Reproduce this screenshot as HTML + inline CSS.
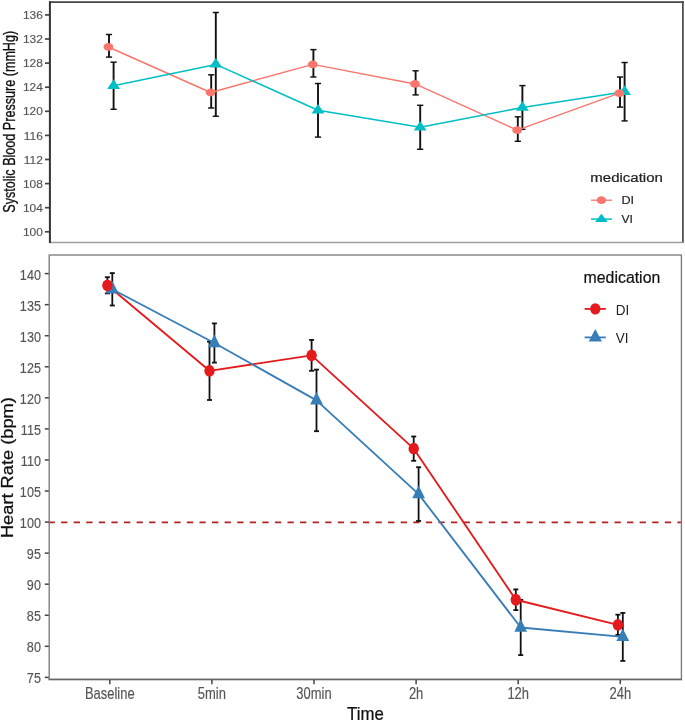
<!DOCTYPE html>
<html><head><meta charset="utf-8"><style>
html,body{margin:0;padding:0;background:#fff;width:685px;height:722px;overflow:hidden}
svg text{font-family:"Liberation Sans", sans-serif}
svg{filter:blur(0.4px)}
</style></head><body>
<svg width="685" height="722" viewBox="0 0 685 722" style="position:absolute;left:0;top:0"><rect width="685" height="722" fill="#fff"/><line x1="49" y1="2.1" x2="684" y2="2.1" stroke="#454545" stroke-width="1.7"/><line x1="682.9" y1="1.3" x2="682.9" y2="243" stroke="#4a4a4a" stroke-width="1.7"/><line x1="49" y1="242.5" x2="683" y2="242.5" stroke="#a0a0a0" stroke-width="1.3"/><line x1="49.9" y1="1.3" x2="49.9" y2="243" stroke="#333" stroke-width="2"/><line x1="45" y1="231.80" x2="49" y2="231.80" stroke="#444" stroke-width="1.7"/><text x="0" y="0" transform="translate(42.9,235.90) scale(1.13,1)" text-anchor="end" font-size="10.6" fill="#555" stroke="#555" stroke-width="0.12">100</text><line x1="45" y1="207.70" x2="49" y2="207.70" stroke="#444" stroke-width="1.7"/><text x="0" y="0" transform="translate(42.9,211.80) scale(1.13,1)" text-anchor="end" font-size="10.6" fill="#555" stroke="#555" stroke-width="0.12">104</text><line x1="45" y1="183.60" x2="49" y2="183.60" stroke="#444" stroke-width="1.7"/><text x="0" y="0" transform="translate(42.9,187.70) scale(1.13,1)" text-anchor="end" font-size="10.6" fill="#555" stroke="#555" stroke-width="0.12">108</text><line x1="45" y1="159.50" x2="49" y2="159.50" stroke="#444" stroke-width="1.7"/><text x="0" y="0" transform="translate(42.9,163.60) scale(1.13,1)" text-anchor="end" font-size="10.6" fill="#555" stroke="#555" stroke-width="0.12">112</text><line x1="45" y1="135.40" x2="49" y2="135.40" stroke="#444" stroke-width="1.7"/><text x="0" y="0" transform="translate(42.9,139.50) scale(1.13,1)" text-anchor="end" font-size="10.6" fill="#555" stroke="#555" stroke-width="0.12">116</text><line x1="45" y1="111.30" x2="49" y2="111.30" stroke="#444" stroke-width="1.7"/><text x="0" y="0" transform="translate(42.9,115.40) scale(1.13,1)" text-anchor="end" font-size="10.6" fill="#555" stroke="#555" stroke-width="0.12">120</text><line x1="45" y1="87.20" x2="49" y2="87.20" stroke="#444" stroke-width="1.7"/><text x="0" y="0" transform="translate(42.9,91.30) scale(1.13,1)" text-anchor="end" font-size="10.6" fill="#555" stroke="#555" stroke-width="0.12">124</text><line x1="45" y1="63.10" x2="49" y2="63.10" stroke="#444" stroke-width="1.7"/><text x="0" y="0" transform="translate(42.9,67.20) scale(1.13,1)" text-anchor="end" font-size="10.6" fill="#555" stroke="#555" stroke-width="0.12">128</text><line x1="45" y1="39.00" x2="49" y2="39.00" stroke="#444" stroke-width="1.7"/><text x="0" y="0" transform="translate(42.9,43.10) scale(1.13,1)" text-anchor="end" font-size="10.6" fill="#555" stroke="#555" stroke-width="0.12">132</text><line x1="45" y1="14.90" x2="49" y2="14.90" stroke="#444" stroke-width="1.7"/><text x="0" y="0" transform="translate(42.9,19.00) scale(1.13,1)" text-anchor="end" font-size="10.6" fill="#555" stroke="#555" stroke-width="0.12">136</text><text x="0" y="0" transform="translate(15.2,121.8) rotate(-90) scale(1,1.25)" text-anchor="middle" font-size="12.6" fill="#111" stroke="#111" stroke-width="0.25">Systolic Blood Pressure (mmHg)</text><line x1="109.00" y1="34.50" x2="109.00" y2="57.10" stroke="#111" stroke-width="1.9"/><line x1="105.90" y1="34.50" x2="112.10" y2="34.50" stroke="#111" stroke-width="1.45"/><line x1="105.90" y1="57.10" x2="112.10" y2="57.10" stroke="#111" stroke-width="1.45"/><line x1="113.60" y1="62.20" x2="113.60" y2="109.30" stroke="#111" stroke-width="1.9"/><line x1="110.50" y1="62.20" x2="116.70" y2="62.20" stroke="#111" stroke-width="1.45"/><line x1="110.50" y1="109.30" x2="116.70" y2="109.30" stroke="#111" stroke-width="1.45"/><line x1="211.20" y1="74.80" x2="211.20" y2="108.00" stroke="#111" stroke-width="1.9"/><line x1="208.10" y1="74.80" x2="214.30" y2="74.80" stroke="#111" stroke-width="1.45"/><line x1="208.10" y1="108.00" x2="214.30" y2="108.00" stroke="#111" stroke-width="1.45"/><line x1="215.80" y1="12.50" x2="215.80" y2="116.30" stroke="#111" stroke-width="1.9"/><line x1="212.70" y1="12.50" x2="218.90" y2="12.50" stroke="#111" stroke-width="1.45"/><line x1="212.70" y1="116.30" x2="218.90" y2="116.30" stroke="#111" stroke-width="1.45"/><line x1="313.40" y1="49.60" x2="313.40" y2="77.00" stroke="#111" stroke-width="1.9"/><line x1="310.30" y1="49.60" x2="316.50" y2="49.60" stroke="#111" stroke-width="1.45"/><line x1="310.30" y1="77.00" x2="316.50" y2="77.00" stroke="#111" stroke-width="1.45"/><line x1="318.00" y1="83.50" x2="318.00" y2="137.10" stroke="#111" stroke-width="1.9"/><line x1="314.90" y1="83.50" x2="321.10" y2="83.50" stroke="#111" stroke-width="1.45"/><line x1="314.90" y1="137.10" x2="321.10" y2="137.10" stroke="#111" stroke-width="1.45"/><line x1="415.60" y1="70.80" x2="415.60" y2="94.90" stroke="#111" stroke-width="1.9"/><line x1="412.50" y1="70.80" x2="418.70" y2="70.80" stroke="#111" stroke-width="1.45"/><line x1="412.50" y1="94.90" x2="418.70" y2="94.90" stroke="#111" stroke-width="1.45"/><line x1="420.20" y1="105.30" x2="420.20" y2="149.30" stroke="#111" stroke-width="1.9"/><line x1="417.10" y1="105.30" x2="423.30" y2="105.30" stroke="#111" stroke-width="1.45"/><line x1="417.10" y1="149.30" x2="423.30" y2="149.30" stroke="#111" stroke-width="1.45"/><line x1="517.80" y1="116.80" x2="517.80" y2="141.30" stroke="#111" stroke-width="1.9"/><line x1="514.70" y1="116.80" x2="520.90" y2="116.80" stroke="#111" stroke-width="1.45"/><line x1="514.70" y1="141.30" x2="520.90" y2="141.30" stroke="#111" stroke-width="1.45"/><line x1="522.40" y1="85.60" x2="522.40" y2="129.30" stroke="#111" stroke-width="1.9"/><line x1="519.30" y1="85.60" x2="525.50" y2="85.60" stroke="#111" stroke-width="1.45"/><line x1="519.30" y1="129.30" x2="525.50" y2="129.30" stroke="#111" stroke-width="1.45"/><line x1="620.00" y1="77.00" x2="620.00" y2="107.10" stroke="#111" stroke-width="1.9"/><line x1="616.90" y1="77.00" x2="623.10" y2="77.00" stroke="#111" stroke-width="1.45"/><line x1="616.90" y1="107.10" x2="623.10" y2="107.10" stroke="#111" stroke-width="1.45"/><line x1="624.60" y1="62.50" x2="624.60" y2="120.90" stroke="#111" stroke-width="1.9"/><line x1="621.50" y1="62.50" x2="627.70" y2="62.50" stroke="#111" stroke-width="1.45"/><line x1="621.50" y1="120.90" x2="627.70" y2="120.90" stroke="#111" stroke-width="1.45"/><polyline points="108.40,47.00 210.60,92.50 312.80,64.40 415.00,83.95 517.20,130.15 619.40,93.15" fill="none" stroke="#F8766D" stroke-width="1.45" stroke-linejoin="round"/><polyline points="113.60,85.75 215.80,64.40 318.00,110.30 420.20,127.30 522.40,107.45 624.60,91.70" fill="none" stroke="#00BFC4" stroke-width="1.55" stroke-linejoin="round"/><polygon points="113.60,79.35 120.00,88.95 107.20,88.95" fill="#00BFC4"/><polygon points="215.80,58.00 222.20,67.60 209.40,67.60" fill="#00BFC4"/><polygon points="318.00,103.90 324.40,113.50 311.60,113.50" fill="#00BFC4"/><polygon points="420.20,120.90 426.60,130.50 413.80,130.50" fill="#00BFC4"/><polygon points="522.40,101.05 528.80,110.65 516.00,110.65" fill="#00BFC4"/><polygon points="624.60,85.30 631.00,94.90 618.20,94.90" fill="#00BFC4"/><ellipse cx="108.40" cy="47.00" rx="4.9" ry="3.9" fill="#F8766D"/><ellipse cx="210.60" cy="92.50" rx="4.9" ry="3.9" fill="#F8766D"/><ellipse cx="312.80" cy="64.40" rx="4.9" ry="3.9" fill="#F8766D"/><ellipse cx="415.00" cy="83.95" rx="4.9" ry="3.9" fill="#F8766D"/><ellipse cx="517.20" cy="130.15" rx="4.9" ry="3.9" fill="#F8766D"/><ellipse cx="619.40" cy="93.15" rx="4.9" ry="3.9" fill="#F8766D"/><text x="0" y="0" transform="translate(590.3,181.7) scale(1.25,1)" font-size="12" fill="#222" stroke="#222" stroke-width="0.2">medication</text><line x1="591" y1="200.2" x2="612" y2="200.2" stroke="#F8766D" stroke-width="1.3"/><ellipse cx="601.4" cy="200.2" rx="4.7" ry="3.9" fill="#F8766D"/><text x="0" y="0" transform="translate(621.4,203.7) scale(1.2,1)" font-size="10.5" fill="#222" stroke="#222" stroke-width="0.15">DI</text><line x1="591" y1="219.1" x2="612" y2="219.1" stroke="#00BFC4" stroke-width="1.5"/><polygon points="601.40,213.70 607.70,222.00 595.10,222.00" fill="#00BFC4"/><text x="0" y="0" transform="translate(621.5,223.2) scale(1.15,1)" font-size="10.5" fill="#222" stroke="#222" stroke-width="0.15">VI</text><line x1="48.52" y1="522.3" x2="681" y2="522.3" stroke="#B22222" stroke-width="1.75" stroke-dasharray="6.3 6.277"/><rect x="49.2" y="255" width="632.2" height="424.4" fill="none" stroke="#7c7c7c" stroke-width="1.35"/><line x1="48.6" y1="679.4" x2="682" y2="679.4" stroke="#666" stroke-width="1.5"/><line x1="44.8" y1="677.38" x2="48.8" y2="677.38" stroke="#444" stroke-width="1.5"/><text x="0" y="0" transform="translate(40.9,683.48) scale(0.83,1)" text-anchor="end" font-size="15.2" fill="#555" stroke="#555" stroke-width="0.15">75</text><line x1="44.8" y1="646.32" x2="48.8" y2="646.32" stroke="#444" stroke-width="1.5"/><text x="0" y="0" transform="translate(40.9,652.42) scale(0.83,1)" text-anchor="end" font-size="15.2" fill="#555" stroke="#555" stroke-width="0.15">80</text><line x1="44.8" y1="615.26" x2="48.8" y2="615.26" stroke="#444" stroke-width="1.5"/><text x="0" y="0" transform="translate(40.9,621.36) scale(0.83,1)" text-anchor="end" font-size="15.2" fill="#555" stroke="#555" stroke-width="0.15">85</text><line x1="44.8" y1="584.20" x2="48.8" y2="584.20" stroke="#444" stroke-width="1.5"/><text x="0" y="0" transform="translate(40.9,590.30) scale(0.83,1)" text-anchor="end" font-size="15.2" fill="#555" stroke="#555" stroke-width="0.15">90</text><line x1="44.8" y1="553.14" x2="48.8" y2="553.14" stroke="#444" stroke-width="1.5"/><text x="0" y="0" transform="translate(40.9,559.24) scale(0.83,1)" text-anchor="end" font-size="15.2" fill="#555" stroke="#555" stroke-width="0.15">95</text><line x1="44.8" y1="522.08" x2="48.8" y2="522.08" stroke="#444" stroke-width="1.5"/><text x="0" y="0" transform="translate(40.9,528.18) scale(0.83,1)" text-anchor="end" font-size="15.2" fill="#555" stroke="#555" stroke-width="0.15">100</text><line x1="44.8" y1="491.02" x2="48.8" y2="491.02" stroke="#444" stroke-width="1.5"/><text x="0" y="0" transform="translate(40.9,497.12) scale(0.83,1)" text-anchor="end" font-size="15.2" fill="#555" stroke="#555" stroke-width="0.15">105</text><line x1="44.8" y1="459.96" x2="48.8" y2="459.96" stroke="#444" stroke-width="1.5"/><text x="0" y="0" transform="translate(40.9,466.06) scale(0.83,1)" text-anchor="end" font-size="15.2" fill="#555" stroke="#555" stroke-width="0.15">110</text><line x1="44.8" y1="428.90" x2="48.8" y2="428.90" stroke="#444" stroke-width="1.5"/><text x="0" y="0" transform="translate(40.9,435.00) scale(0.83,1)" text-anchor="end" font-size="15.2" fill="#555" stroke="#555" stroke-width="0.15">115</text><line x1="44.8" y1="397.84" x2="48.8" y2="397.84" stroke="#444" stroke-width="1.5"/><text x="0" y="0" transform="translate(40.9,403.94) scale(0.83,1)" text-anchor="end" font-size="15.2" fill="#555" stroke="#555" stroke-width="0.15">120</text><line x1="44.8" y1="366.78" x2="48.8" y2="366.78" stroke="#444" stroke-width="1.5"/><text x="0" y="0" transform="translate(40.9,372.88) scale(0.83,1)" text-anchor="end" font-size="15.2" fill="#555" stroke="#555" stroke-width="0.15">125</text><line x1="44.8" y1="335.72" x2="48.8" y2="335.72" stroke="#444" stroke-width="1.5"/><text x="0" y="0" transform="translate(40.9,341.82) scale(0.83,1)" text-anchor="end" font-size="15.2" fill="#555" stroke="#555" stroke-width="0.15">130</text><line x1="44.8" y1="304.66" x2="48.8" y2="304.66" stroke="#444" stroke-width="1.5"/><text x="0" y="0" transform="translate(40.9,310.76) scale(0.83,1)" text-anchor="end" font-size="15.2" fill="#555" stroke="#555" stroke-width="0.15">135</text><line x1="44.8" y1="273.60" x2="48.8" y2="273.60" stroke="#444" stroke-width="1.5"/><text x="0" y="0" transform="translate(40.9,279.70) scale(0.83,1)" text-anchor="end" font-size="15.2" fill="#555" stroke="#555" stroke-width="0.15">140</text><line x1="109.80" y1="680" x2="109.80" y2="684.2" stroke="#444" stroke-width="1.5"/><text x="0" y="0" transform="translate(109.80,698.9) scale(0.81,1)" text-anchor="middle" font-size="16" fill="#555" stroke="#555" stroke-width="0.15">Baseline</text><line x1="211.90" y1="680" x2="211.90" y2="684.2" stroke="#444" stroke-width="1.5"/><text x="0" y="0" transform="translate(211.90,698.9) scale(0.81,1)" text-anchor="middle" font-size="16" fill="#555" stroke="#555" stroke-width="0.15">5min</text><line x1="314.00" y1="680" x2="314.00" y2="684.2" stroke="#444" stroke-width="1.5"/><text x="0" y="0" transform="translate(314.00,698.9) scale(0.81,1)" text-anchor="middle" font-size="16" fill="#555" stroke="#555" stroke-width="0.15">30min</text><line x1="416.10" y1="680" x2="416.10" y2="684.2" stroke="#444" stroke-width="1.5"/><text x="0" y="0" transform="translate(416.10,698.9) scale(0.81,1)" text-anchor="middle" font-size="16" fill="#555" stroke="#555" stroke-width="0.15">2h</text><line x1="518.20" y1="680" x2="518.20" y2="684.2" stroke="#444" stroke-width="1.5"/><text x="0" y="0" transform="translate(518.20,698.9) scale(0.81,1)" text-anchor="middle" font-size="16" fill="#555" stroke="#555" stroke-width="0.15">12h</text><line x1="620.30" y1="680" x2="620.30" y2="684.2" stroke="#444" stroke-width="1.5"/><text x="0" y="0" transform="translate(620.30,698.9) scale(0.81,1)" text-anchor="middle" font-size="16" fill="#555" stroke="#555" stroke-width="0.15">24h</text><text x="0" y="0" transform="translate(365.4,719.7) scale(0.91,1)" text-anchor="middle" font-size="18.4" fill="#111" stroke="#111" stroke-width="0.25">Time</text><text x="0" y="0" transform="translate(13.2,467.6) rotate(-90) scale(1.141,1)" text-anchor="middle" font-size="16" fill="#111" stroke="#111" stroke-width="0.25">Heart Rate (bpm)</text><line x1="107.40" y1="277.20" x2="107.40" y2="293.40" stroke="#111" stroke-width="1.8"/><line x1="104.90" y1="277.20" x2="109.90" y2="277.20" stroke="#111" stroke-width="1.8"/><line x1="104.90" y1="293.40" x2="109.90" y2="293.40" stroke="#111" stroke-width="1.8"/><line x1="112.30" y1="273.10" x2="112.30" y2="305.50" stroke="#111" stroke-width="1.8"/><line x1="109.80" y1="273.10" x2="114.80" y2="273.10" stroke="#111" stroke-width="1.8"/><line x1="109.80" y1="305.50" x2="114.80" y2="305.50" stroke="#111" stroke-width="1.8"/><line x1="209.50" y1="341.60" x2="209.50" y2="400.00" stroke="#111" stroke-width="1.8"/><line x1="207.00" y1="341.60" x2="212.00" y2="341.60" stroke="#111" stroke-width="1.8"/><line x1="207.00" y1="400.00" x2="212.00" y2="400.00" stroke="#111" stroke-width="1.8"/><line x1="214.40" y1="323.40" x2="214.40" y2="362.60" stroke="#111" stroke-width="1.8"/><line x1="211.90" y1="323.40" x2="216.90" y2="323.40" stroke="#111" stroke-width="1.8"/><line x1="211.90" y1="362.60" x2="216.90" y2="362.60" stroke="#111" stroke-width="1.8"/><line x1="311.60" y1="339.90" x2="311.60" y2="370.80" stroke="#111" stroke-width="1.8"/><line x1="309.10" y1="339.90" x2="314.10" y2="339.90" stroke="#111" stroke-width="1.8"/><line x1="309.10" y1="370.80" x2="314.10" y2="370.80" stroke="#111" stroke-width="1.8"/><line x1="316.50" y1="369.60" x2="316.50" y2="431.20" stroke="#111" stroke-width="1.8"/><line x1="314.00" y1="369.60" x2="319.00" y2="369.60" stroke="#111" stroke-width="1.8"/><line x1="314.00" y1="431.20" x2="319.00" y2="431.20" stroke="#111" stroke-width="1.8"/><line x1="413.70" y1="436.50" x2="413.70" y2="460.80" stroke="#111" stroke-width="1.8"/><line x1="411.20" y1="436.50" x2="416.20" y2="436.50" stroke="#111" stroke-width="1.8"/><line x1="411.20" y1="460.80" x2="416.20" y2="460.80" stroke="#111" stroke-width="1.8"/><line x1="418.60" y1="467.20" x2="418.60" y2="521.00" stroke="#111" stroke-width="1.8"/><line x1="416.10" y1="467.20" x2="421.10" y2="467.20" stroke="#111" stroke-width="1.8"/><line x1="416.10" y1="521.00" x2="421.10" y2="521.00" stroke="#111" stroke-width="1.8"/><line x1="515.80" y1="589.40" x2="515.80" y2="610.10" stroke="#111" stroke-width="1.8"/><line x1="513.30" y1="589.40" x2="518.30" y2="589.40" stroke="#111" stroke-width="1.8"/><line x1="513.30" y1="610.10" x2="518.30" y2="610.10" stroke="#111" stroke-width="1.8"/><line x1="520.70" y1="599.90" x2="520.70" y2="655.10" stroke="#111" stroke-width="1.8"/><line x1="518.20" y1="599.90" x2="523.20" y2="599.90" stroke="#111" stroke-width="1.8"/><line x1="518.20" y1="655.10" x2="523.20" y2="655.10" stroke="#111" stroke-width="1.8"/><line x1="617.90" y1="614.70" x2="617.90" y2="634.90" stroke="#111" stroke-width="1.8"/><line x1="615.40" y1="614.70" x2="620.40" y2="614.70" stroke="#111" stroke-width="1.8"/><line x1="615.40" y1="634.90" x2="620.40" y2="634.90" stroke="#111" stroke-width="1.8"/><line x1="622.80" y1="612.90" x2="622.80" y2="660.90" stroke="#111" stroke-width="1.8"/><line x1="620.30" y1="612.90" x2="625.30" y2="612.90" stroke="#111" stroke-width="1.8"/><line x1="620.30" y1="660.90" x2="625.30" y2="660.90" stroke="#111" stroke-width="1.8"/><polyline points="107.40,285.30 209.50,370.80 311.60,355.35 413.70,448.65 515.80,599.75 617.90,624.80" fill="none" stroke="#E41A1C" stroke-width="1.85" stroke-linejoin="round"/><polyline points="112.30,289.30 214.40,343.00 316.50,400.40 418.60,494.10 520.70,627.50 622.80,636.90" fill="none" stroke="#377EB8" stroke-width="1.85" stroke-linejoin="round"/><polygon points="112.30,280.80 118.70,293.50 105.90,293.50" fill="#377EB8"/><polygon points="214.40,334.50 220.80,347.20 208.00,347.20" fill="#377EB8"/><polygon points="316.50,391.90 322.90,404.60 310.10,404.60" fill="#377EB8"/><polygon points="418.60,485.60 425.00,498.30 412.20,498.30" fill="#377EB8"/><polygon points="520.70,619.00 527.10,631.70 514.30,631.70" fill="#377EB8"/><polygon points="622.80,628.40 629.20,641.10 616.40,641.10" fill="#377EB8"/><ellipse cx="107.40" cy="285.30" rx="5.2" ry="5.9" fill="#E41A1C"/><ellipse cx="209.50" cy="370.80" rx="5.2" ry="5.9" fill="#E41A1C"/><ellipse cx="311.60" cy="355.35" rx="5.2" ry="5.9" fill="#E41A1C"/><ellipse cx="413.70" cy="448.65" rx="5.2" ry="5.9" fill="#E41A1C"/><ellipse cx="515.80" cy="599.75" rx="5.2" ry="5.9" fill="#E41A1C"/><ellipse cx="617.90" cy="624.80" rx="5.2" ry="5.9" fill="#E41A1C"/><text x="0" y="0" transform="translate(583.6,282.8) scale(0.98,1)" font-size="16.2" fill="#111" stroke="#111" stroke-width="0.2">medication</text><line x1="584.6" y1="308.9" x2="605.8" y2="308.9" stroke="#E41A1C" stroke-width="1.8"/><ellipse cx="595.3" cy="308.9" rx="5.1" ry="5.7" fill="#E41A1C"/><text x="0" y="0" transform="translate(615.8,315.2) scale(0.9,1)" font-size="15" fill="#222">DI</text><line x1="584.6" y1="337.4" x2="605.8" y2="337.4" stroke="#377EB8" stroke-width="1.8"/><polygon points="595.30,328.90 601.90,341.60 588.70,341.60" fill="#377EB8"/><text x="0" y="0" transform="translate(615.8,343.3) scale(0.9,1)" font-size="15" fill="#222">VI</text></svg>
</body></html>
